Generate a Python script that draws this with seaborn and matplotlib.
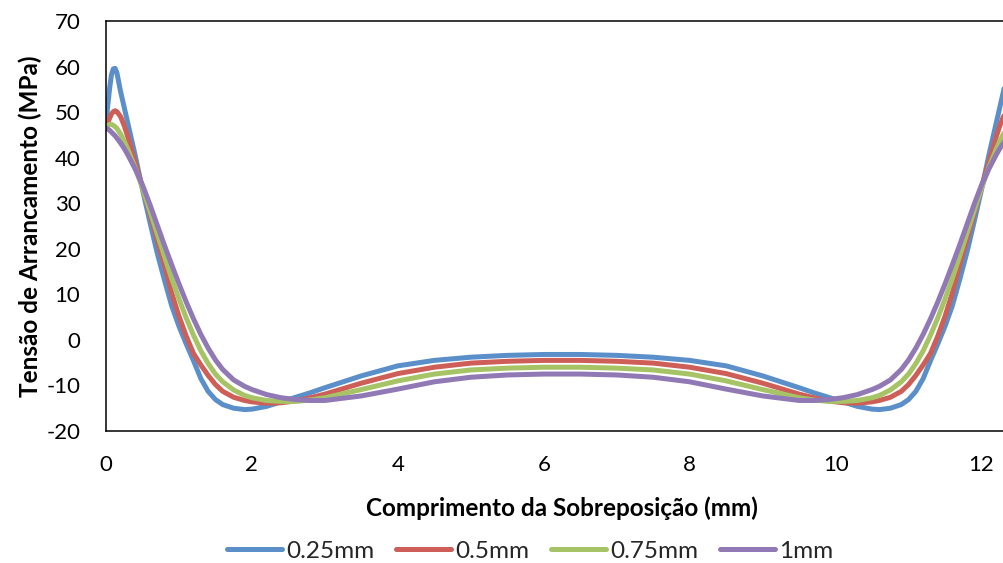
import matplotlib
matplotlib.use("Agg")
import matplotlib.pyplot as plt
import pandas as pd
import seaborn as sns

# Position along the overlap (mm)
x_mm = [0.0, 0.025, 0.05, 0.075, 0.1, 0.125, 0.15, 0.2, 0.25, 0.3, 0.4, 0.5,
        0.6, 0.7, 0.8, 0.9, 1.0, 1.1, 1.2, 1.3, 1.4, 1.5, 1.6, 1.75, 1.9,
        2.0, 2.2, 2.4, 2.6, 2.8, 3.0, 3.5, 4.0, 4.5, 5.0, 5.5, 6.0, 6.25,
        6.5, 7.0, 7.5, 8.0, 8.5, 9.0, 9.5, 9.7, 9.9, 10.1, 10.3, 10.5, 10.6,
        10.75, 10.9, 11.0, 11.1, 11.2, 11.3, 11.4, 11.5, 11.6, 11.7, 11.8,
        11.9, 12.0, 12.1, 12.2, 12.25, 12.3, 12.35, 12.375, 12.4, 12.425,
        12.45, 12.475, 12.5]

# Peel stress (MPa) for each adhesive thickness
peel_025 = [47.5, 51.5, 55.3, 58.2, 59.5, 59.6, 58.6, 54.5, 51.0, 47.5, 40.5,
            33.0, 26.0, 19.2, 13.2, 7.5, 3.0, -0.9, -4.6, -8.5, -11.3, -13.1,
            -14.2, -15.0, -15.3, -15.2, -14.6, -13.6, -12.6, -11.6, -10.5,
            -7.9, -5.7, -4.5, -3.8, -3.4, -3.2, -3.2,
            -3.2, -3.4, -3.8, -4.5, -5.7, -7.9, -10.5, -11.6, -12.6, -13.6,
            -14.6, -15.2, -15.3, -15.0, -14.2, -13.1, -11.3, -8.5, -4.6, -0.9,
            3.0, 7.5, 13.2, 19.2, 26.0, 33.0, 40.5, 47.5, 51.0, 54.5, 58.6,
            59.6, 59.5, 58.2, 55.3, 51.5, 47.5]
peel_05 = [46.5, 47.6, 48.7, 49.6, 50.1, 50.3, 50.1, 49.0, 47.0, 44.5, 39.0,
           33.5, 27.8, 22.0, 16.5, 10.3, 5.2, 0.8, -3.0, -5.5, -7.8, -9.8,
           -11.3, -12.6, -13.3, -13.6, -13.9, -13.8, -13.4, -12.7, -11.9,
           -9.5, -7.4, -6.0, -5.1, -4.7, -4.5, -4.5,
           -4.5, -4.7, -5.1, -6.0, -7.4, -9.5, -11.9, -12.7, -13.4, -13.8,
           -13.9, -13.6, -13.3, -12.6, -11.3, -9.8, -7.8, -5.5, -3.0, 0.8,
           5.2, 10.3, 16.5, 22.0, 27.8, 33.5, 39.0, 44.5, 47.0, 49.0, 50.1,
           50.3, 50.1, 49.6, 48.7, 47.6, 46.5]
peel_075 = [46.8, 47.1, 47.3, 47.3, 47.1, 46.8, 46.4, 45.2, 43.6, 41.8, 37.8,
            33.3, 28.4, 23.4, 18.4, 13.5, 9.0, 4.8, 1.0, -2.4, -5.2, -7.5,
            -9.2, -11.0, -12.2, -12.7, -13.3, -13.5, -13.5, -13.2, -12.7,
            -10.9, -9.0, -7.5, -6.6, -6.2, -6.0, -6.0,
            -6.0, -6.2, -6.6, -7.5, -9.0, -10.9, -12.7, -13.2, -13.5, -13.5,
            -13.3, -12.7, -12.2, -11.0, -9.2, -7.5, -5.2, -2.4, 1.0, 4.8,
            9.0, 13.5, 18.4, 23.4, 28.4, 33.3, 37.8, 41.8, 43.6, 45.2, 46.4,
            46.8, 47.1, 47.3, 47.3, 47.1, 46.8]
peel_1 = [46.5, 46.3, 46.0, 45.6, 45.2, 44.8, 44.3, 43.2, 42.0, 40.6, 37.5,
          34.0, 29.8, 25.3, 20.8, 16.5, 12.3, 8.3, 4.6, 1.2, -1.8, -4.4,
          -6.5, -8.8, -10.2, -10.9, -12.0, -12.7, -13.1, -13.3, -13.3,
          -12.3, -10.8, -9.2, -8.2, -7.7, -7.5, -7.5,
          -7.5, -7.7, -8.2, -9.2, -10.8, -12.3, -13.3, -13.3, -13.1, -12.7,
          -12.0, -10.9, -10.2, -8.8, -6.5, -4.4, -1.8, 1.2, 4.6, 8.3,
          12.3, 16.5, 20.8, 25.3, 29.8, 34.0, 37.5, 40.6, 42.0, 43.2, 44.3,
          44.8, 45.2, 45.6, 46.0, 46.3, 46.5]

series_labels = ["0.25mm", "0.5mm", "0.75mm", "1mm"]
series_values = [peel_025, peel_05, peel_075, peel_1]
series_colors = ["#5B8FCA", "#CD5F58", "#A6C465", "#9079B4"]

x_ticks = [0, 2, 4, 6, 8, 10, 12]
y_ticks = [-20, -10, 0, 10, 20, 30, 40, 50, 60, 70]

sns.set_theme(style="white")
plt.rcParams["font.family"] = ["Lato", "DejaVu Sans"]
plt.rcParams["axes.unicode_minus"] = False

df = pd.concat(
    [pd.DataFrame({"x": x_mm, "y": vals, "serie": lab})
     for lab, vals in zip(series_labels, series_values)],
    ignore_index=True,
)

W, H = 1004, 563
fig = plt.figure(figsize=(W / 100, H / 100), dpi=100)
ax = fig.add_axes([106 / W, (H - 431) / H, 912 / W, 410 / H])

sns.lineplot(data=df, x="x", y="y", hue="serie", hue_order=series_labels,
             palette=series_colors, linewidth=3.6, sort=False,
             legend=False, ax=ax)
for ln in ax.get_lines():
    ln.set_solid_capstyle("round")
    ln.set_solid_joinstyle("round")

ax.set_xlim(0, 12.5)
ax.set_ylim(-20, 70)
ax.set_xticks(x_ticks)
ax.set_yticks(y_ticks)
ax.tick_params(axis="both", length=0, labelsize=16, colors="black")
ax.tick_params(axis="y", pad=18.5)
ax.tick_params(axis="x", pad=17)

for sp in ax.spines.values():
    sp.set_color("black")
    sp.set_linewidth(1.1)

ax.set_xlabel("Comprimento da Sobreposição (mm)", fontsize=17.5,
              fontweight="bold", color="black", labelpad=16)
ax.set_ylabel("Tensão de Arrancamento (MPa)", fontsize=17.5,
              fontweight="bold", color="black", labelpad=3)

handles = ax.get_lines()[:4]
fig.legend(handles, series_labels, loc="center",
           bbox_to_anchor=(530 / W, 1 - 551 / H), ncol=4, frameon=False,
           fontsize=17.5, handlelength=2.25, handletextpad=0.18,
           columnspacing=0.9)

fig.savefig("out.png", dpi=100)
